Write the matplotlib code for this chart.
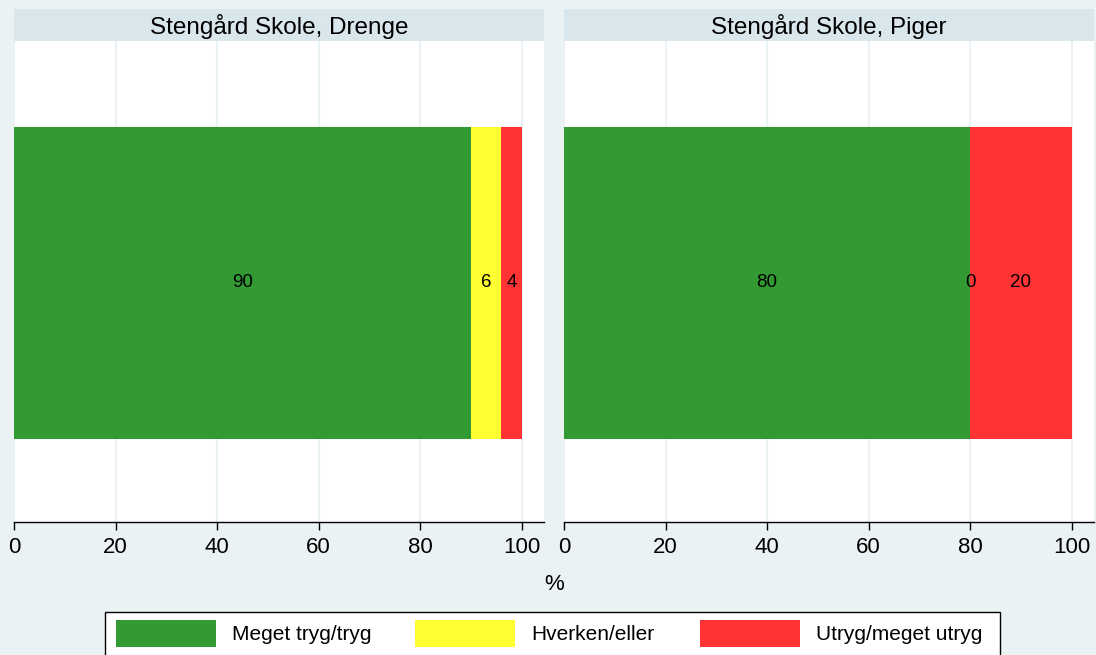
import matplotlib
matplotlib.use("Agg")
import matplotlib.pyplot as plt
from matplotlib.patches import Rectangle

plt.rcParams['font.family'] = ['Liberation Sans', 'DejaVu Sans']

panels = ["Stengård Skole, Drenge", "Stengård Skole, Piger"]
categories = ["Meget tryg/tryg", "Hverken/eller", "Utryg/meget utryg"]
values = [[90, 6, 4], [80, 0, 20]]
colors = ["#339933", "#FFFF33", "#FF3333"]
xticks = [0, 20, 40, 60, 80, 100]

W, H = 1096, 655
fig = plt.figure(figsize=(W / 100, H / 100), dpi=100)
fig.patch.set_facecolor("#EAF2F3")
bg = "#EAF2F3"

def fx(px):
    return px / W

def fy(py):
    return 1 - py / H

lefts = [14, 564]
width = 530
for i, (name, vals) in enumerate(zip(panels, values)):
    ax = fig.add_axes([fx(lefts[i]), fy(522), fx(width), fy(41) - fy(522)])
    ax.set_facecolor("white")
    ax.set_xlim(0, 104.4)
    ax.set_ylim(-0.497, 0.503)
    left = 0
    for v, c in zip(vals, colors):
        ax.barh(0, v, left=left, height=0.647, color=c, zorder=2)
        ax.text(left + v / 2, 0, f"{v}", ha="center", va="center", fontsize=13.5, zorder=3)
        left += v
    ax.set_xticks(xticks)
    ax.set_xticklabels([str(t) for t in xticks], fontsize=16)
    ax.set_yticks([])
    ax.grid(axis="x", color=bg, linewidth=1.5, zorder=1)
    for s in ["left", "right", "top"]:
        ax.spines[s].set_visible(False)
    ax.spines["bottom"].set_color("black")
    ax.spines["bottom"].set_linewidth(1.0)
    ax.tick_params(axis="x", direction="out", length=6, width=1, pad=5, colors="black")
    # header strip
    sax = fig.add_axes([fx(lefts[i]), fy(41), fx(width), fy(9) - fy(41)])
    sax.set_facecolor("#D9E6EB")
    sax.set_xticks([]); sax.set_yticks([])
    for s in sax.spines.values():
        s.set_visible(False)
    sax.text(0.5, 0.45, name, ha="center", va="center", fontsize=17.5, transform=sax.transAxes)

fig.text(fx(554), fy(584), "%", ha="center", va="center", fontsize=16)

# legend
fig.patches.append(Rectangle((fx(105), fy(668)), fx(895), fy(612) - fy(668),
                             transform=fig.transFigure, facecolor="white",
                             edgecolor="black", linewidth=1.0))
sw = [116, 415, 700]
for x0, c, lab in zip(sw, colors, categories):
    fig.patches.append(Rectangle((fx(x0), fy(647)), fx(100), fy(620) - fy(647),
                                 transform=fig.transFigure, facecolor=c, edgecolor="none"))
    fig.text(fx(x0 + 116), fy(634), lab, ha="left", va="center", fontsize=15)

fig.savefig("out.png", dpi=100, facecolor=fig.get_facecolor())
